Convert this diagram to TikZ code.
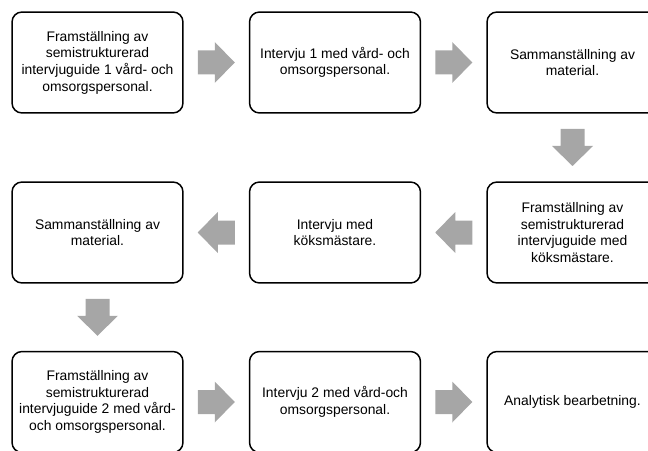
\documentclass[tikz,border=0pt]{standalone}
\usepackage{fontspec}
\setmainfont{Liberation Sans}
\usetikzlibrary{calc}
\definecolor{arrowgray}{HTML}{A6A6A6}
\newcommand{\flowarrow}[3]{\fill[arrowgray,shift={($(#1)!0.5!(#2)$)},rotate=#3](-18.5,-12)--(-1.5,-12)--(-1.5,-20.5)--(18.5,0)--(-1.5,20.5)--(-1.5,12)--(-18.5,12)--cycle;}

\begin{document}
\begin{tikzpicture}[x=0.02cm,y=0.02cm,
  stepbox/.style={draw=black,line width=0.85pt,rounded corners=0.2cm,minimum width=3.42cm,minimum height=2.02cm,inner sep=0pt,align=center,font=\fontsize{7.9}{9.5}\selectfont}]
\clip(0,0)rectangle(648,450);
% first row
\node[stepbox](f1)at(97.5,387.5){Framställning av\\semistrukturerad\\intervjuguide 1 vård- och\\omsorgspersonal.};
\node[stepbox](i1)at(335,387.5){Intervju 1 med vård- och\\omsorgspersonal.};
\node[stepbox](s1)at(572.5,387.5){Sammanställning av\\material.};
% second row
\node[stepbox](f2)at(572.5,217.5){Framställning av\\semistrukturerad\\intervjuguide med\\köksmästare.};
\node[stepbox](i2)at(335,217.5){Intervju med\\köksmästare.};
\node[stepbox](s2)at(97.5,217.5){Sammanställning av\\material.};
% third row
\node[stepbox](f3)at(97.5,48){Framställning av\\semistrukturerad\\intervjuguide 2 med vård-\\och omsorgspersonal.};
\node[stepbox](i3)at(335,48){Intervju 2 med vård-och\\omsorgspersonal.};
\node[stepbox](a1)at(572.5,48){Analytisk bearbetning.};
% arrows
\flowarrow{f1.east}{i1.west}{0}
\flowarrow{i1.east}{s1.west}{0}
\flowarrow{s1.south}{f2.north}{-90}
\flowarrow{f2.west}{i2.east}{180}
\flowarrow{i2.west}{s2.east}{180}
\flowarrow{s2.south}{f3.north}{-90}
\flowarrow{f3.east}{i3.west}{0}
\flowarrow{i3.east}{a1.west}{0}
\end{tikzpicture}
\end{document}
